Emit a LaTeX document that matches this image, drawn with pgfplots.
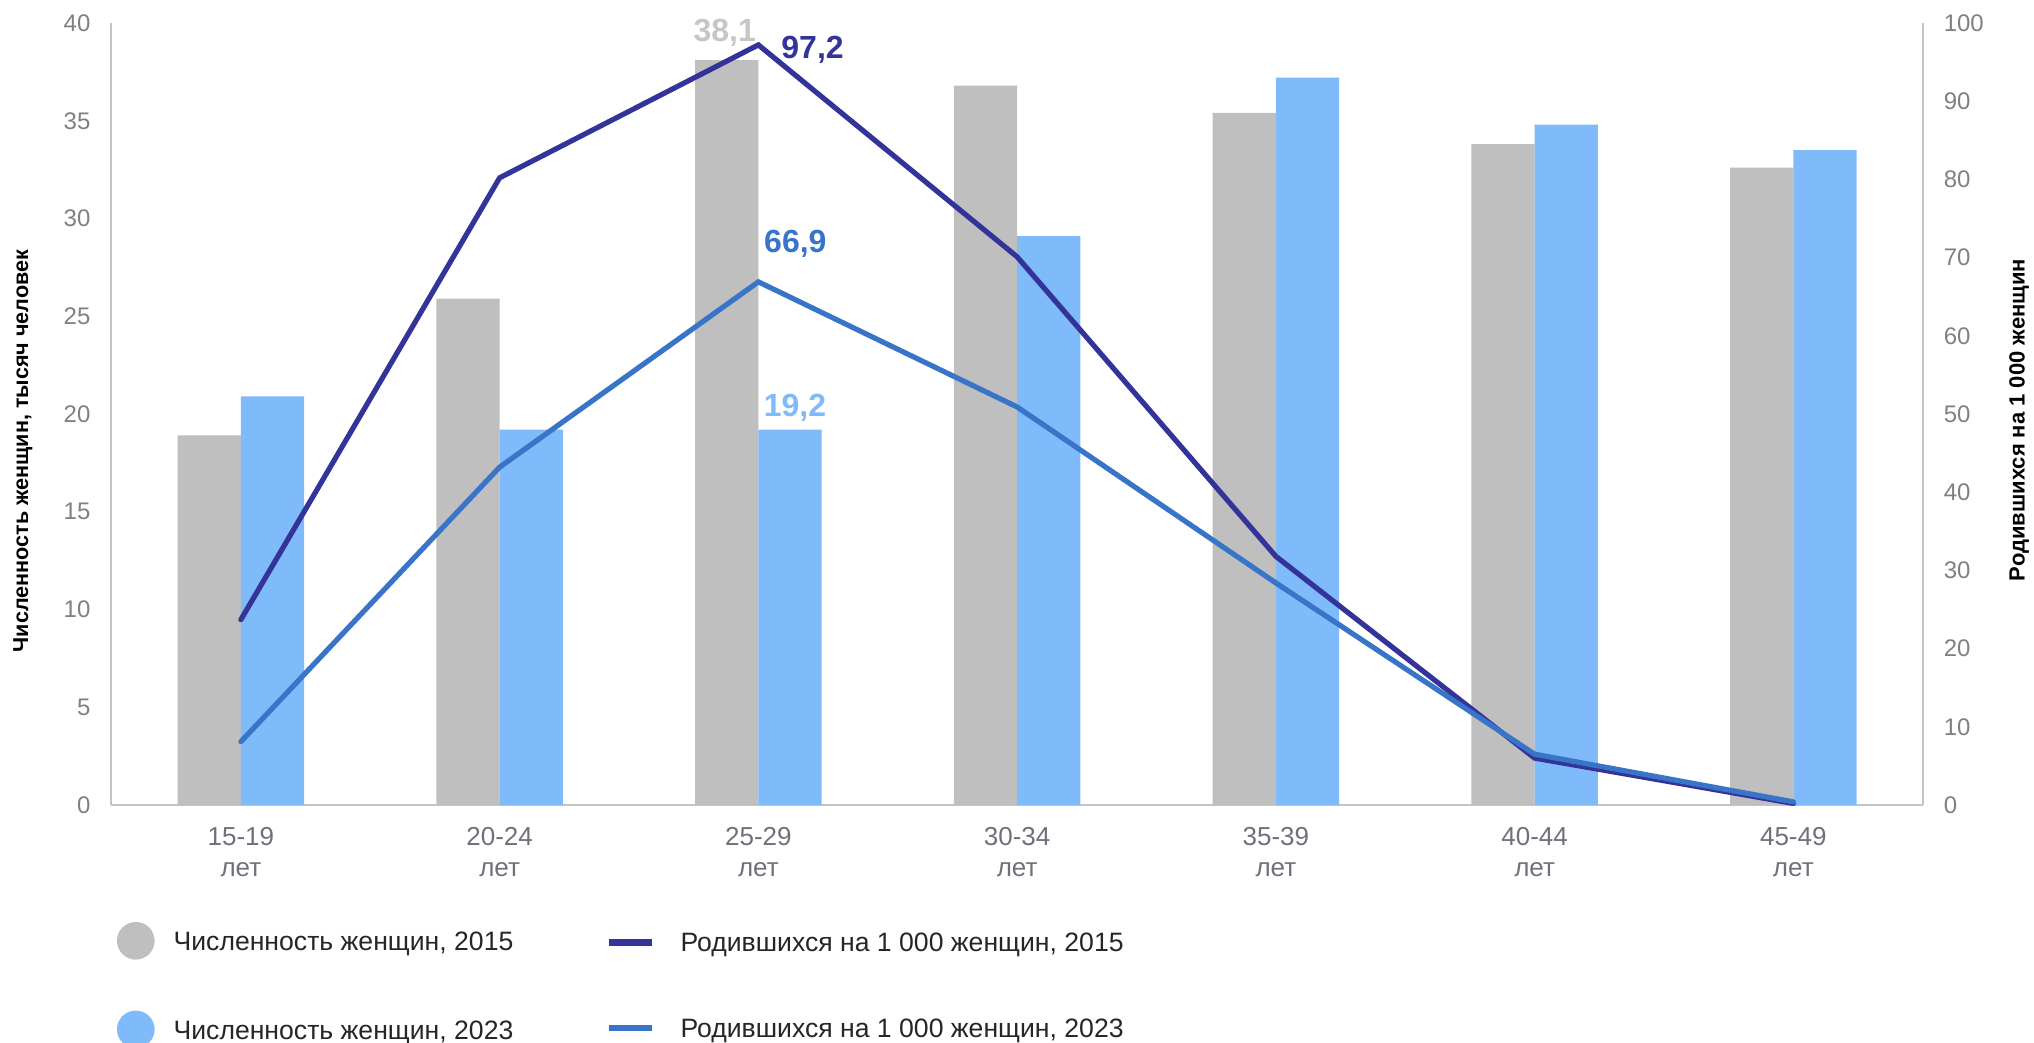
\documentclass[border=0pt]{standalone}
\usepackage{pgfplots}
\pgfplotsset{compat=1.18}
\usepackage{fontspec}
\setmainfont{Liberation Sans}
\definecolor{bargray}{HTML}{BFBFBF}
\definecolor{barblue}{HTML}{7FBAFA}
\definecolor{linedark}{HTML}{333399}
\definecolor{lineblue}{HTML}{3874C8}
\definecolor{tickgray}{HTML}{808080}
\definecolor{xtickgray}{HTML}{6E7179}
\definecolor{axisgray}{HTML}{C4C4C4}
\definecolor{legtext}{HTML}{262626}
\definecolor{lab38}{HTML}{C6C6C6}
\pgfplotsset{linelegend/.style={legend image code/.code={\draw[##1, line width=3.4pt, line cap=butt] (0pt,1.25pt) -- (21.4pt,1.25pt);}}}
\begin{document}
\begin{tikzpicture}
\useasboundingbox (0pt,0pt) rectangle (1017pt,521.5pt);
\begin{axis}[
  at={(55.75pt,119pt)}, anchor=south west, scale only axis,
  width=905.6pt, height=391pt,
  xmin=-0.5, xmax=6.5, ymin=0, ymax=40,
  axis y line*=left, axis x line*=bottom,
  axis line style={draw=axisgray, line width=1pt, -},
  xtick={0,...,6},
  xticklabels={{15-19\\лет},{20-24\\лет},{25-29\\лет},{30-34\\лет},{35-39\\лет},{40-44\\лет},{45-49\\лет}},
  xticklabel style={align=center, font=\fontsize{13}{15.5}\selectfont, text=xtickgray, yshift=-7.5pt},
  ytick={0,5,...,40},
  yticklabel style={font=\fontsize{12}{14}\selectfont, text=tickgray, xshift=-7pt},
  major tick length=0pt, tick style={draw=none},
  /pgf/number format/assume math mode=true,
  ylabel={Численность женщин, тысяч человек},
  every axis y label/.style={at={(axis description cs:-0.0489,0.4527)}, rotate=90, anchor=center, font=\fontsize{10.8}{12}\selectfont\bfseries},
  legend style={draw=none, fill=none, inner sep=0pt, outer sep=0pt,
    at={(axis description cs:0.00304,-0.1496)}, anchor=north west,
    row sep=25.5pt, font=\fontsize{13.3}{15}\selectfont, text=legtext,
    nodes={inner sep=0pt, text height=10pt, text depth=3pt},
    /tikz/every odd column/.style={column sep=9.5pt}},
  legend cell align=left,
  clip=false,
]
\addlegendimage{legend image code/.code={\fill[bargray] (9.2pt,1.5pt) circle[radius=9.2pt];}}
\addlegendentry{Численность женщин, 2015}
\addlegendimage{legend image code/.code={\fill[barblue] (9.2pt,1.5pt) circle[radius=9.2pt];}}
\addlegendentry{Численность женщин, 2023}
\addplot[ybar, bar width=0.2447, bar shift=-0.1223, fill=bargray, draw=none, forget plot]
  coordinates {(0,18.9) (1,25.9) (2,38.1) (3,36.8) (4,35.4) (5,33.8) (6,32.6)};
\addplot[ybar, bar width=0.2447, bar shift=0.1223, fill=barblue, draw=none, forget plot]
  coordinates {(0,20.9) (1,19.2) (2,19.2) (3,29.1) (4,37.2) (5,34.8) (6,33.5)};
\node[anchor=base, text=lab38, font=\fontsize{16}{18}\selectfont\bfseries, xshift=-1pt, yshift=9.5pt] at (axis cs:1.8777,38.1) {38,1};
\node[anchor=base, text=barblue, font=\fontsize{16}{18}\selectfont\bfseries, xshift=2.5pt, yshift=6.5pt] at (axis cs:2.1223,19.2) {19,2};
\end{axis}
\begin{axis}[
  at={(55.75pt,119pt)}, anchor=south west, scale only axis,
  width=905.6pt, height=391pt,
  xmin=-0.5, xmax=6.5, ymin=0, ymax=100,
  axis y line*=right, axis x line=none,
  axis line style={draw=axisgray, line width=1pt, -},
  ytick={0,10,...,100},
  yticklabel style={font=\fontsize{12}{14}\selectfont, text=tickgray, xshift=7pt},
  major tick length=0pt, tick style={draw=none},
  /pgf/number format/assume math mode=true,
  ylabel={Родившихся на 1 000 женщин},
  every axis y label/.style={at={(axis description cs:1.0532,0.4923)}, rotate=90, anchor=center, font=\fontsize{11}{12}\selectfont\bfseries},
  legend style={draw=none, fill=none, inner sep=0pt, outer sep=0pt,
    at={(axis description cs:0.2730,-0.1624)}, anchor=north west,
    row sep=29.75pt, font=\fontsize{13.3}{15}\selectfont, text=legtext,
    nodes={inner sep=0pt, text height=10pt, text depth=3pt},
    /tikz/every odd column/.style={column sep=12.5pt}},
  legend cell align=left,
  clip=false,
]
\addplot[linedark, line width=2.6pt, line cap=round, linelegend]
  coordinates {(0,23.7) (1,80.2) (2,97.2) (3,70.1) (4,31.8) (5,6.0) (6,0.2)};
\addlegendentry{Родившихся на 1 000 женщин, 2015}
\addplot[lineblue, line width=2.6pt, line cap=round, linelegend]
  coordinates {(0,8.1) (1,43.2) (2,66.9) (3,50.9) (4,28.4) (5,6.5) (6,0.4)};
\addlegendentry{Родившихся на 1 000 женщин, 2023}
\node[anchor=base west, text=linedark, font=\fontsize{16}{18}\selectfont\bfseries, xshift=8pt, yshift=-7pt] at (axis cs:2,97.2) {97,2};
\node[anchor=base, text=lineblue, font=\fontsize{16}{18}\selectfont\bfseries, xshift=18.5pt, yshift=14.5pt] at (axis cs:2,66.9) {66,9};
\end{axis}
\end{tikzpicture}
\end{document}
